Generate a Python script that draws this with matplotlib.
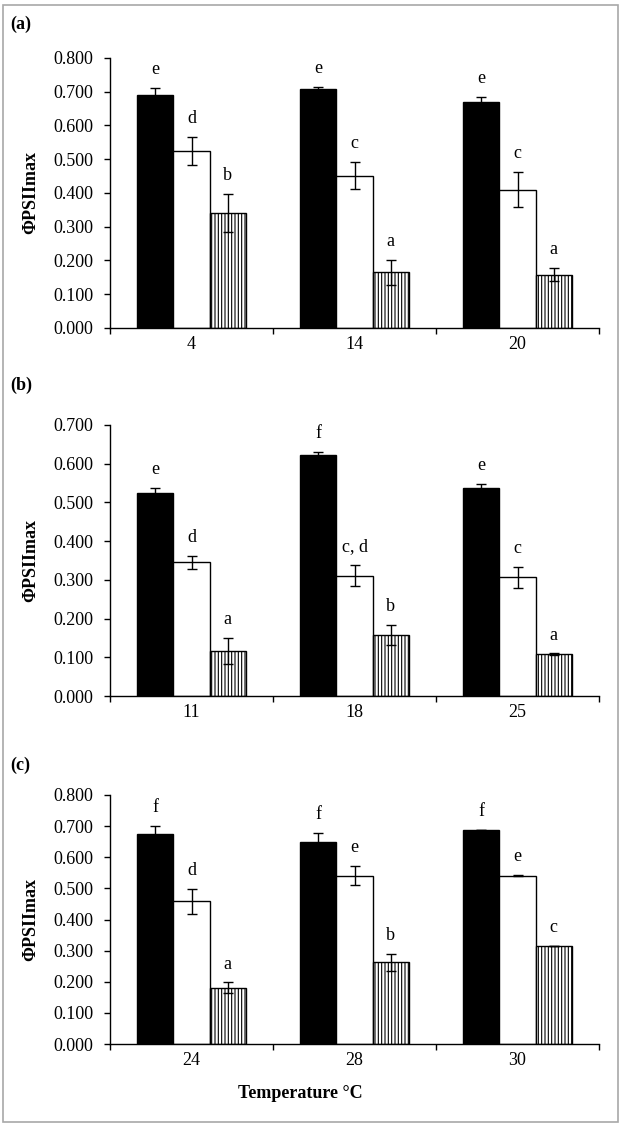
import numpy as np
import matplotlib
matplotlib.use("Agg")
import matplotlib.pyplot as plt
from matplotlib.patches import Rectangle

plt.rcParams['font.family'] = ['Liberation Serif', 'DejaVu Serif']
plt.rcParams['hatch.linewidth'] = 0.8

# Panel (a)
temps_a = ["4", "14", "20"]
black_a = [0.690, 0.707, 0.670]
black_a_err = [0.020, 0.006, 0.015]
white_a = [0.525, 0.451, 0.409]
white_a_err = [0.042, 0.040, 0.052]
hatch_a = [0.341, 0.165, 0.158]
hatch_a_err = [0.056, 0.037, 0.020]
letters_a = [["e", "e", "e"], ["d", "c", "c"], ["b", "a", "a"]]

# Panel (b)
temps_b = ["11", "18", "25"]
black_b = [0.525, 0.622, 0.538]
black_b_err = [0.013, 0.008, 0.009]
white_b = [0.345, 0.311, 0.307]
white_b_err = [0.017, 0.027, 0.027]
hatch_b = [0.116, 0.158, 0.108]
hatch_b_err = [0.033, 0.026, 0.002]
letters_b = [["e", "f", "e"], ["d", "c, d", "c"], ["a", "b", "a"]]

# Panel (c)
temps_c = ["24", "28", "30"]
black_c = [0.675, 0.650, 0.688]
black_c_err = [0.025, 0.027, 0.0]
white_c = [0.458, 0.541, 0.541]
white_c_err = [0.039, 0.030, 0.002]
hatch_c = [0.181, 0.262, 0.314]
hatch_c_err = [0.017, 0.027, 0.0]
letters_c = [["f", "f", "f"], ["d", "e", "e"], ["a", "b", "c"]]

panels = [
    ("(a)", temps_a, [black_a, white_a, hatch_a], [black_a_err, white_a_err, hatch_a_err], letters_a, 0.8,
     [0.176, 0.7090, 0.7824, 0.2396], 0.978),
    ("(b)", temps_b, [black_b, white_b, hatch_b], [black_b_err, white_b_err, hatch_b_err], letters_b, 0.7,
     [0.176, 0.3824, 0.7824, 0.2405], 0.658),
    ("(c)", temps_c, [black_c, white_c, hatch_c], [black_c_err, white_c_err, hatch_c_err], letters_c, 0.8,
     [0.176, 0.0736, 0.7824, 0.2210], 0.321),
]

fig = plt.figure(figsize=(6.25, 11.27), dpi=100)
fig.patch.set_facecolor('white')
fig.add_artist(Rectangle((3/625, 5/1127), 615/625, 1117/1127, transform=fig.transFigure,
                         fill=False, edgecolor='#a8a8a8', linewidth=1.2))

width = 0.222
styles = [dict(color='black', edgecolor='black'),
          dict(color='white', edgecolor='black'),
          dict(color='white', edgecolor='black', hatch='|||||')]
fs = 13

for label, temps, series, errs, letters, ymax, pos, label_y in panels:
    ax = fig.add_axes(pos)
    x = np.arange(len(temps))
    for k in range(3):
        xs = x + (k - 1) * width
        ax.bar(xs, series[k], width=width, linewidth=1.0, zorder=2, **styles[k])
        ax.errorbar(xs, series[k], yerr=errs[k], fmt='none', ecolor='black',
                    elinewidth=1.0, capsize=3.5, capthick=1.0, zorder=3)
        for i in range(len(temps)):
            ax.annotate(letters[k][i], (xs[i], series[k][i] + errs[k][i]),
                        xytext=(0, 10), textcoords='offset points',
                        ha='center', va='baseline', fontsize=fs)
    ax.set_xlim(-0.5, len(temps) - 0.5)
    ax.set_ylim(0, ymax)
    ax.set_yticks(np.arange(0, ymax + 0.001, 0.1))
    ax.set_yticklabels([f"{v:.3f}" for v in np.arange(0, ymax + 0.001, 0.1)], fontsize=fs)
    ax.set_xticks(np.arange(-0.5, len(temps), 1.0))
    ax.set_xticklabels([])
    ax.set_xticks(x, temps, minor=True, fontsize=fs)
    ax.tick_params(axis='x', which='major', direction='out', length=4, width=1)
    ax.tick_params(axis='x', which='minor', length=0, pad=6)
    ax.tick_params(axis='y', direction='out', length=4, width=1, pad=8)
    for s in ['top', 'right']:
        ax.spines[s].set_visible(False)
    ax.spines['left'].set_linewidth(1)
    ax.spines['bottom'].set_linewidth(1)
    ax.set_ylabel("ΦPSIImax", fontsize=fs, fontweight='bold', labelpad=10,
                  family=['Liberation Serif', 'DejaVu Serif'])
    fig.text(10/625, label_y, label, fontsize=fs, fontweight='bold', ha='left', va='center')

fig.text(300/625, 1 - 1093/1127, "Temperature °C", fontsize=fs, fontweight='bold',
         ha='center', va='center')

fig.savefig("out.png", dpi=100)
